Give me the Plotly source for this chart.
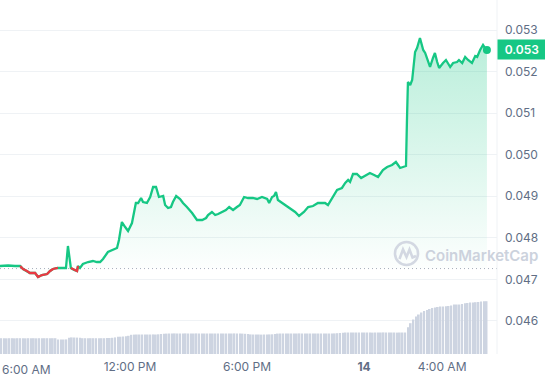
import plotly.graph_objects as go
import pandas as pd

# ---------------- data ----------------
START = "2023-11-13 05:20"
END = "2023-11-14 06:49"

price_minutes = [
    0, 25, 46, 62, 71, 83, 92, 108, 117, 129, 145, 154, 163, 178, 194, 203, 209, 215, 218, 228,
    237, 240, 246, 255, 271, 286, 298, 308, 317, 332, 348, 360, 366, 375, 385, 394, 406, 418, 425, 434,
    440, 452, 462, 471, 480, 489, 502, 508, 517, 526, 532, 542, 554, 563, 575, 591, 606, 622, 634, 640,
    652, 662, 671, 683, 695, 705, 717, 729, 738, 751, 763, 778, 791, 806, 822, 828, 837, 843, 849, 855,
    868, 883, 892, 908, 920, 935, 948, 963, 978, 991, 1000, 1009, 1022, 1037, 1052, 1062, 1071, 1077, 1086, 1098,
    1111, 1123, 1138, 1151, 1163, 1178, 1191, 1206, 1218, 1231, 1240, 1249, 1252, 1255, 1262, 1268, 1277, 1283, 1292, 1298,
    1302, 1308, 1314, 1323, 1332, 1338, 1345, 1351, 1363, 1372, 1385, 1394, 1406, 1412, 1422, 1431, 1440, 1452, 1462, 1468,
    1477, 1486, 1492, 1498,
]
price_values = [
    0.047322, 0.047334, 0.047322, 0.047322, 0.047250, 0.047202, 0.047153, 0.047153, 0.047057, 0.047105,
    0.047129, 0.047202, 0.047250, 0.047274, 0.047274, 0.047274, 0.047803, 0.047466, 0.047274, 0.047226,
    0.047202, 0.047322, 0.047274, 0.047370, 0.047418, 0.047442, 0.047418, 0.047418, 0.047490, 0.047659,
    0.047707, 0.047755, 0.047947, 0.048380, 0.048260, 0.048164, 0.048356, 0.048838, 0.048838, 0.048958,
    0.048862, 0.048838, 0.048982, 0.049223, 0.049223, 0.048982, 0.049006, 0.048789, 0.048717, 0.048741,
    0.048862, 0.049006, 0.048934, 0.048838, 0.048741, 0.048597, 0.048429, 0.048429, 0.048477, 0.048549,
    0.048621, 0.048549, 0.048573, 0.048621, 0.048669, 0.048741, 0.048669, 0.048741, 0.048789, 0.048982,
    0.048958, 0.048958, 0.048934, 0.048982, 0.048934, 0.048838, 0.048982, 0.049006, 0.049102, 0.048910,
    0.048838, 0.048765, 0.048717, 0.048621, 0.048525, 0.048621, 0.048741, 0.048765, 0.048838, 0.048838,
    0.048838, 0.048789, 0.048958, 0.049150, 0.049199, 0.049319, 0.049391, 0.049343, 0.049535, 0.049535,
    0.049439, 0.049487, 0.049559, 0.049511, 0.049463, 0.049632, 0.049704, 0.049752, 0.049824, 0.049680,
    0.049704, 0.049728, 0.050835, 0.051749, 0.051677, 0.051797, 0.052471, 0.052567, 0.052808, 0.052639,
    0.052519, 0.052447, 0.052326, 0.052110, 0.052326, 0.052447, 0.052230, 0.052086, 0.052206, 0.052278,
    0.052110, 0.052206, 0.052230, 0.052278, 0.052206, 0.052350, 0.052278, 0.052206, 0.052374, 0.052350,
    0.052519, 0.052639, 0.052567, 0.052519,
]
open_price = 0.04726
current_price_label = "0.053"

VOLUME_START = "2023-11-13 05:24"
VOLUME_END = "2023-11-14 06:17"
volume_values = [
    1.58, 1.58, 1.57, 1.58, 1.58, 1.57, 1.58, 1.58, 1.58, 1.57, 1.58, 1.58, 1.58, 1.57, 1.58, 1.58, 1.58, 1.58, 1.57, 1.58, 1.58,
    1.45, 1.44, 1.45, 1.46,
    1.62, 1.66, 1.65, 1.64, 1.62,
    1.58, 1.58, 1.57, 1.58, 1.58, 1.58, 1.57, 1.58, 1.58, 1.59, 1.60, 1.62, 1.66,
    1.72, 1.73, 1.75, 1.78, 1.82,
    1.92, 1.94, 1.95, 1.95, 1.95, 1.96, 1.95, 1.95, 1.96, 1.95, 1.97, 2.00, 2.02, 2.04,
    2.05, 2.05, 2.06, 2.05, 2.05, 2.05, 2.06, 2.05, 2.05, 2.05, 2.06, 2.05, 2.05, 2.05, 2.05,
    2.06, 2.05, 2.05, 2.05, 2.06, 2.05, 2.05, 2.05, 2.05, 2.06, 2.05, 2.05, 2.04, 2.02, 2.00,
    1.96, 1.95, 1.95, 1.95, 1.94, 1.95, 1.95, 1.96, 1.97, 2.00,
    2.04, 2.05, 2.05, 2.06, 2.05, 2.05, 2.05, 2.05, 2.06, 2.05, 2.05, 2.05, 2.05, 2.06, 2.05,
    2.05, 2.05, 2.06, 2.05, 2.05, 2.05, 2.06, 2.08, 2.10, 2.12,
    2.15, 2.15, 2.14, 2.15, 2.15, 2.15, 2.16, 2.15, 2.15, 2.15, 2.14, 2.15, 2.15, 2.15, 2.16,
    2.15, 2.15, 2.15, 2.15, 2.14, 2.15, 2.15, 2.15,
    2.68, 3.08, 3.45, 3.75, 3.95, 4.15, 4.30, 4.40, 4.50, 4.60, 4.65, 4.70, 4.75, 4.75, 4.78,
    4.80, 4.85, 4.95, 4.95, 4.95, 5.00, 5.08, 5.10, 5.15, 5.15, 5.18, 5.20, 5.25, 5.28, 5.28,
]
VOLUME_AXIS_MAX = 35.4

y_tick_values = [0.046, 0.047, 0.048, 0.049, 0.050, 0.051, 0.052, 0.053]
x_tick_times = ["2023-11-13 12:00", "2023-11-13 18:00", "2023-11-14 00:00", "2023-11-14 04:00"]
x_tick_labels = ["12:00 PM", "6:00 PM", "<b>14</b>", "4:00 AM"]
first_tick_label = "6:00 AM"

# ---------------- derived ----------------
times = pd.Timestamp(START) + pd.to_timedelta(price_minutes, unit="m")
vol_times = pd.date_range(VOLUME_START, VOLUME_END, periods=len(volume_values))

below = [v < open_price for v in price_values]
red_y = []
for i, v in enumerate(price_values):
    near = below[i] or (i > 0 and below[i - 1]) or (i + 1 < len(below) and below[i + 1])
    red_y.append(v if near else None)

GREEN = "#16c784"
RED = "#ea3943"
LABEL = "#616e85"
FONT = "Inter, Roboto, sans-serif"

W, H = 545, 380
ML, MR, MT, MB = 0, 48, 0, 26
PW, PH = W - ML - MR, H - MT - MB


def px(x, y):
    return x / PW, 1 - y / PH


fig = go.Figure()

fig.add_trace(go.Bar(
    x=vol_times, y=volume_values, yaxis="y2",
    marker=dict(color="#cdd4e1", line=dict(width=0)),
    hoverinfo="skip", showlegend=False,
))

fig.add_trace(go.Scatter(
    x=times, y=[open_price] * len(times), mode="lines",
    line=dict(width=0), hoverinfo="skip", showlegend=False,
))
fig.add_trace(go.Scatter(
    x=times, y=price_values, mode="lines",
    line=dict(color=GREEN, width=2.3),
    fill="tonexty",
    fillgradient=dict(type="vertical",
                      colorscale=[[0, "rgba(22,199,132,0)"], [1, "rgba(22,199,132,0.30)"]]),
    showlegend=False,
))
fig.add_trace(go.Scatter(
    x=times, y=red_y, mode="lines", connectgaps=False,
    line=dict(color=RED, width=2.3), showlegend=False,
))
fig.add_trace(go.Scatter(
    x=[times[-1]], y=[price_values[-1]], mode="markers",
    marker=dict(color=GREEN, size=8), showlegend=False,
))

shapes = [
    dict(type="line", xref="paper", yref="y", x0=0, x1=1, y0=open_price, y1=open_price,
         line=dict(color="#a7adbb", width=1, dash="1px,3px"), layer="below"),
    dict(type="line", xref="paper", yref="paper", x0=1, x1=1, y0=0, y1=1,
         line=dict(color="#eff2f5", width=1)),
]
# watermark logo
cx0, cy0 = px(395, 242)
cx1, cy1 = px(418, 265)
shapes.append(dict(type="circle", xref="paper", yref="paper", x0=cx0, x1=cx1, y0=cy1, y1=cy0,
                   line=dict(color="#d3d8e2", width=2.6)))
pts = [(399.5, 259), (403, 249.5), (406.5, 257), (409.5, 249.5), (412.5, 257.5), (416, 256)]
path = ""
for j, (a, b) in enumerate(pts):
    u, w = px(a, b)
    path += ("M" if j == 0 else " L") + f"{u:.5f},{w:.5f}"
shapes.append(dict(type="path", xref="paper", yref="paper", path=path,
                   line=dict(color="#d3d8e2", width=2.6)))

wx, wy = px(481, 255)
fx, fy = px(0, 369)
annotations = [
    dict(text="CoinMarketCap", xref="paper", yref="paper", x=wx, y=wy, showarrow=False,
         xanchor="center", yanchor="middle",
         font=dict(family=FONT, size=15, color="#ccd2dd", weight=600)),
    dict(text=current_price_label, xref="paper", yref="y", x=1, y=price_values[-1],
         xanchor="left", yanchor="middle", showarrow=False, width=48, height=19,
         bgcolor=GREEN, borderpad=0, align="center",
         font=dict(family=FONT, size=12, color="white", weight=600)),
    dict(text=first_tick_label, xref="paper", yref="paper", x=fx, y=fy, showarrow=False,
         xanchor="left", yanchor="middle",
         font=dict(family=FONT, size=12, color=LABEL)),
]

fig.update_layout(
    width=W, height=H,
    margin=dict(l=ML, r=MR, t=MT, b=MB),
    paper_bgcolor="white", plot_bgcolor="white",
    bargap=0.35,
    shapes=shapes, annotations=annotations,
    font=dict(family=FONT, size=12, color=LABEL),
    xaxis=dict(type="date", range=[START, END], showgrid=False, zeroline=False, showline=False,
               tickvals=x_tick_times, ticktext=x_tick_labels, ticks="",
               tickfont=dict(family=FONT, size=12, color=LABEL), ticklabelstandoff=4),
    yaxis=dict(side="right", range=[0.0452046, 0.0537217], tickvals=y_tick_values,
               tickformat=".3f", showgrid=True, gridcolor="#eff2f5", gridwidth=1,
               zeroline=False, showline=False, ticks="",
               tickfont=dict(family=FONT, size=12, color=LABEL), ticklabelstandoff=7),
    yaxis2=dict(overlaying="y", range=[0, VOLUME_AXIS_MAX], visible=False),
)

fig.write_html("out.html", config={"displayModeBar": False},
               post_script="document.body.style.margin='0px';document.body.style.overflow='hidden';")
